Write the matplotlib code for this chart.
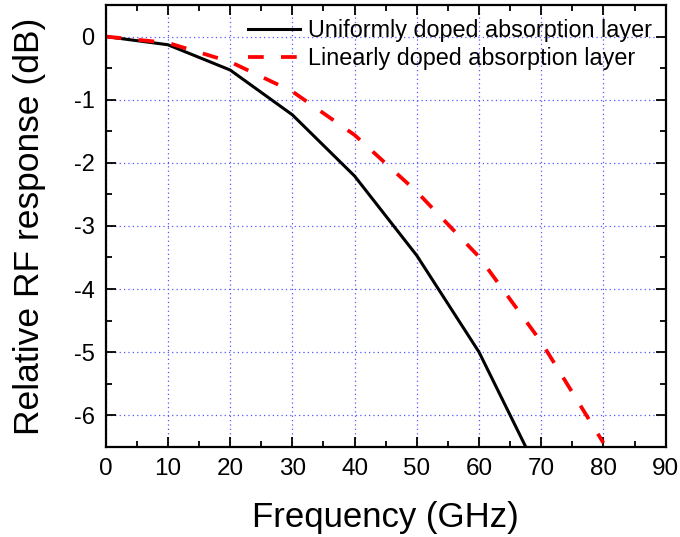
import matplotlib
matplotlib.use("Agg")
import matplotlib.pyplot as plt
from matplotlib.ticker import MultipleLocator

plt.rcParams['font.family'] = ['Liberation Sans', 'DejaVu Sans']
plt.rcParams['axes.unicode_minus'] = False

freq = [0, 10, 20, 30, 40, 50, 60, 70]
uniform = [0, -0.13, -0.53, -1.24, -2.21, -3.47, -5.0, -7.0]
freq_lin = [0, 10, 20, 30, 40, 50, 60, 70, 80]
linear = [0, -0.1, -0.4, -0.87, -1.56, -2.46, -3.49, -4.84, -6.44]

labels = ["Uniformly doped absorption layer", "Linearly doped absorption layer"]

fig = plt.figure(figsize=(6.8, 5.37), dpi=100)
ax = fig.add_axes([0.1554, 0.168, 0.979 - 0.1554, 0.9907 - 0.168])

ax.plot(freq, uniform, color='black', lw=2.2, label=labels[0])
ax.plot(freq_lin, linear, color='red', lw=2.7, ls=(0, (4.2, 4.6)), label=labels[1])

ax.set_xlim(0, 90)
ax.set_ylim(-6.5, 0.5)
ax.xaxis.set_major_locator(MultipleLocator(10))
ax.xaxis.set_minor_locator(MultipleLocator(5))
ax.yaxis.set_major_locator(MultipleLocator(1))
ax.yaxis.set_minor_locator(MultipleLocator(0.5))
ax.tick_params(which='both', direction='in', top=True, right=True, width=1.3)
ax.tick_params(axis='x', labelsize=17.5)
ax.tick_params(axis='y', labelsize=17)
ax.tick_params(which='major', length=7, pad=8)
ax.tick_params(which='minor', length=4)
for s in ax.spines.values():
    s.set_linewidth(1.6)
ax.grid(True, which='major', color='#5555ff', ls=(0, (1, 2.5)), lw=0.9)

ax.set_xlabel("Frequency (GHz)", fontsize=25, labelpad=15)
ax.set_ylabel("Relative RF response (dB)", fontsize=25.5, labelpad=20)

ax.legend(loc='upper right', frameon=False, fontsize=16.8, handlelength=2.2,
          borderaxespad=0.1, labelspacing=0.22, handletextpad=0.35,
          borderpad=0.5)

fig.savefig("out.png", dpi=100)
